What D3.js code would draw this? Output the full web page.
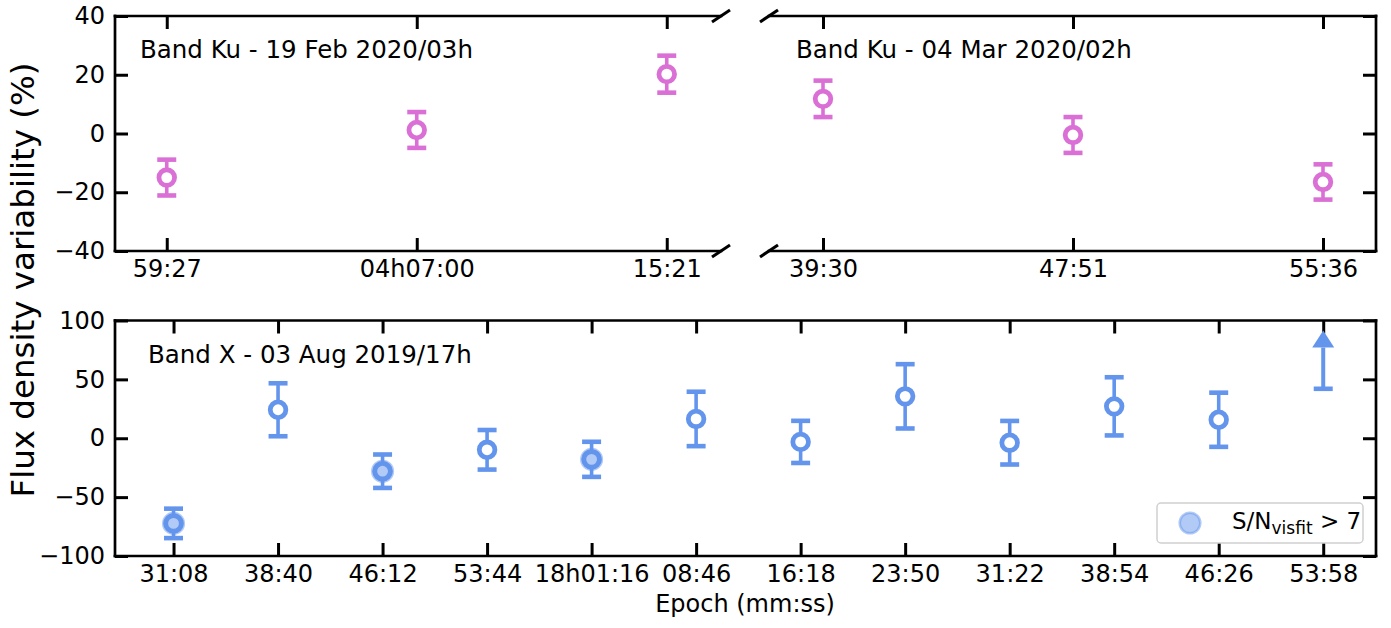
<!DOCTYPE html>
<html>
<head>
<meta charset="utf-8">
<script src="https://cdn.jsdelivr.net/npm/d3@7"></script>
<style>
  html, body { margin: 0; padding: 0; background: #fff; }
  svg { display: block; font-family: "DejaVu Sans", sans-serif; }
</style>
</head>
<body>
<svg id="chart" width="1391" height="628"></svg>
<script>
// Ku band, 19 Feb 2020
const kuFebLabels = ["59:27", "04h07:00", "15:21"];
const kuFebValues = [-15.0, 1.2, 20.2];
const kuFebErrors = [6.1, 6.1, 6.3];

// Ku band, 04 Mar 2020
const kuMarLabels = ["39:30", "47:51", "55:36"];
const kuMarValues = [11.8, -0.5, -16.5];
const kuMarErrors = [6.2, 6.1, 6.0];

// X band, 03 Aug 2019
const xLabels = ["31:08", "38:40", "46:12", "53:44", "18h01:16", "08:46",
                 "16:18", "23:50", "31:22", "38:54", "46:26", "53:58"];
const xValues = [-72.3, 24.2, -28.0, -9.8, -17.9, 16.4, -3.1, 35.6, -3.8, 27.1, 15.7, 42.0];
const xErrors = [12.5, 22.5, 14.2, 16.8, 14.9, 23.1, 17.9, 27.3, 18.5, 24.7, 23.0, 35.0];
const xHighSN = [true, false, true, false, true, false, false, false, false, false, false, false];
const xLowerLimits = [false, false, false, false, false, false, false, false, false, false, false, true];

const kuTicks = [-40, -20, 0, 20, 40];
const xTicks = [-100, -50, 0, 50, 100];

const PINK = "#da70d6";
const BLUE = "#6495ed";
const FONT = 24;
const TICK = 13;

const svg = d3.select("#chart");

// Scales
const xFeb = d3.scaleLinear().domain([-0.207, 2.217]).range([115, 721]);
const xMar = d3.scaleLinear().domain([-0.216, 2.212]).range([769, 1376]);
const yKu = d3.scaleLinear().domain([-40, 40]).range([251, 16]);
const xX = d3.scaleLinear().domain([-0.56, 11.505]).range([115, 1376]);
const yX = d3.scaleLinear().domain([-100, 100]).range([556, 320.5]);

function styleAxis(g, showLabels) {
  g.select(".domain").remove();
  g.selectAll(".tick line").attr("stroke", "#000").attr("stroke-width", 3);
  g.selectAll(".tick text")
    .attr("fill", "#000")
    .style("font-size", FONT + "px")
    .style("font-family", "DejaVu Sans")
    .style("display", showLabels ? null : "none");
}

function xAxes(x, y, labels) {
  const idx = labels.map((_, i) => i);
  const [y0, y1] = y.range();
  svg.append("g").attr("transform", `translate(0,${y0})`)
    .call(d3.axisBottom(x).tickValues(idx).tickFormat(i => labels[i]).tickSize(-TICK).tickPadding(9))
    .call(g => styleAxis(g, true));
  svg.append("g").attr("transform", `translate(0,${y1})`)
    .call(d3.axisTop(x).tickValues(idx).tickSize(-TICK))
    .call(g => styleAxis(g, false));
}

function yAxisLeft(x, y, ticks) {
  svg.append("g").attr("transform", `translate(${x.range()[0]},0)`)
    .call(d3.axisLeft(y).tickValues(ticks).tickFormat(d3.format("d")).tickSize(-TICK).tickPadding(10))
    .call(g => styleAxis(g, true))
    .call(g => g.selectAll(".tick text").text(d => d < 0 ? "\u2212" + Math.abs(d) : d));
}

function yAxisRight(x, y, ticks) {
  svg.append("g").attr("transform", `translate(${x.range()[1]},0)`)
    .call(d3.axisRight(y).tickValues(ticks).tickSize(-TICK))
    .call(g => styleAxis(g, false));
}

function spine(x1, y1, x2, y2) {
  svg.append("line").attr("x1", x1).attr("y1", y1).attr("x2", x2).attr("y2", y2)
    .attr("stroke", "#000").attr("stroke-width", 2.7).attr("stroke-linecap", "square");
}

function breakMark(cx, cy) {
  svg.append("line").attr("x1", cx - 9).attr("y1", cy + 6).attr("x2", cx + 9).attr("y2", cy - 6)
    .attr("stroke", "#000").attr("stroke-width", 3);
}

function errorBars(x, y, values, errors, color, limits) {
  const g = svg.append("g");
  values.forEach((v, i) => {
    const cx = x(i);
    const isLim = limits && limits[i];
    const lo = y(v - (isLim ? 0 : errors[i]));
    const hi = y(v + errors[i]);
    g.append("line").attr("x1", cx).attr("x2", cx).attr("y1", lo).attr("y2", hi)
      .attr("stroke", color).attr("stroke-width", isLim ? 4 : 3.6);
    g.append("line").attr("x1", cx - 9.5).attr("x2", cx + 9.5).attr("y1", lo).attr("y2", lo)
      .attr("stroke", color).attr("stroke-width", 4.6);
    if (isLim) {
      g.append("path")
        .attr("d", `M${cx - 11},${hi}L${cx + 11},${hi}L${cx},${hi - 17}Z`)
        .attr("fill", color);
    } else {
      g.append("line").attr("x1", cx - 9.5).attr("x2", cx + 9.5).attr("y1", hi).attr("y2", hi)
        .attr("stroke", color).attr("stroke-width", 4.6);
    }
  });
}

function markers(x, y, values, color, limits) {
  svg.append("g").selectAll("circle")
    .data(values.map((v, i) => ({ v, i })).filter(d => !(limits && limits[d.i])))
    .join("circle")
    .attr("cx", d => x(d.i)).attr("cy", d => y(d.v))
    .attr("r", 7.8)
    .attr("fill", "#fff").attr("stroke", color).attr("stroke-width", 4.8);
}

// ---- Top left panel: Ku band, Feb 2020
spine(115, 16, 721, 16);
spine(115, 251, 721, 251);
spine(115, 16, 115, 251);
xAxes(xFeb, yKu, kuFebLabels);
yAxisLeft(xFeb, yKu, kuTicks);
breakMark(721, 16);
breakMark(721, 251);
errorBars(xFeb, yKu, kuFebValues, kuFebErrors, PINK);
markers(xFeb, yKu, kuFebValues, PINK);
svg.append("text").attr("x", 140).attr("y", 58).attr("font-size", 24.5).text("Band Ku - 19 Feb 2020/03h");

// ---- Top right panel: Ku band, Mar 2020
spine(769, 16, 1376, 16);
spine(769, 251, 1376, 251);
spine(1376, 16, 1376, 251);
xAxes(xMar, yKu, kuMarLabels);
yAxisRight(xMar, yKu, kuTicks);
breakMark(769, 16);
breakMark(769, 251);
errorBars(xMar, yKu, kuMarValues, kuMarErrors, PINK);
markers(xMar, yKu, kuMarValues, PINK);
svg.append("text").attr("x", 796).attr("y", 58).attr("font-size", 24.5).text("Band Ku - 04 Mar 2020/02h");

// ---- Bottom panel: X band, Aug 2019
spine(115, 320.5, 1376, 320.5);
spine(115, 556, 1376, 556);
spine(115, 320.5, 115, 556);
spine(1376, 320.5, 1376, 556);
xAxes(xX, yX, xLabels);
yAxisLeft(xX, yX, xTicks);
yAxisRight(xX, yX, xTicks);
errorBars(xX, yX, xValues, xErrors, BLUE, xLowerLimits);
markers(xX, yX, xValues, BLUE, xLowerLimits);

// high S/N epochs are highlighted with a translucent disc
svg.append("g").selectAll("circle")
  .data(xValues.map((v, i) => ({ v, i })).filter(d => xHighSN[d.i]))
  .join("circle")
  .attr("cx", d => xX(d.i)).attr("cy", d => yX(d.v))
  .attr("r", 10.3).attr("fill", BLUE).attr("fill-opacity", 0.5)
  .attr("stroke", BLUE).attr("stroke-opacity", 0.5).attr("stroke-width", 2.5);

svg.append("text").attr("x", 148).attr("y", 363).attr("font-size", 24.5).text("Band X - 03 Aug 2019/17h");

// Legend
const leg = svg.append("g");
leg.append("rect").attr("x", 1157).attr("y", 503).attr("width", 206).attr("height", 40)
  .attr("rx", 4).attr("fill", "#fff").attr("fill-opacity", 0.8)
  .attr("stroke", "#d0d0d0").attr("stroke-width", 1.5);
leg.append("circle").attr("cx", 1190).attr("cy", 523).attr("r", 10.3)
  .attr("fill", BLUE).attr("fill-opacity", 0.5)
  .attr("stroke", BLUE).attr("stroke-opacity", 0.5).attr("stroke-width", 2.5);
const lt = leg.append("text").attr("x", 1232).attr("y", 529).attr("font-size", 23);
lt.append("tspan").text("S/N");
lt.append("tspan").attr("dy", 5).attr("font-size", 17).text("visfit");
lt.append("tspan").attr("dy", -5).text(" > 7");

// Axis titles
svg.append("text").attr("x", 745).attr("y", 612).attr("text-anchor", "middle")
  .attr("font-size", FONT).text("Epoch (mm:ss)");
svg.append("text").attr("transform", "translate(34,280) rotate(-90)").attr("text-anchor", "middle")
  .attr("font-size", 32.5).text("Flux density variability (%)");
</script>
</body>
</html>
